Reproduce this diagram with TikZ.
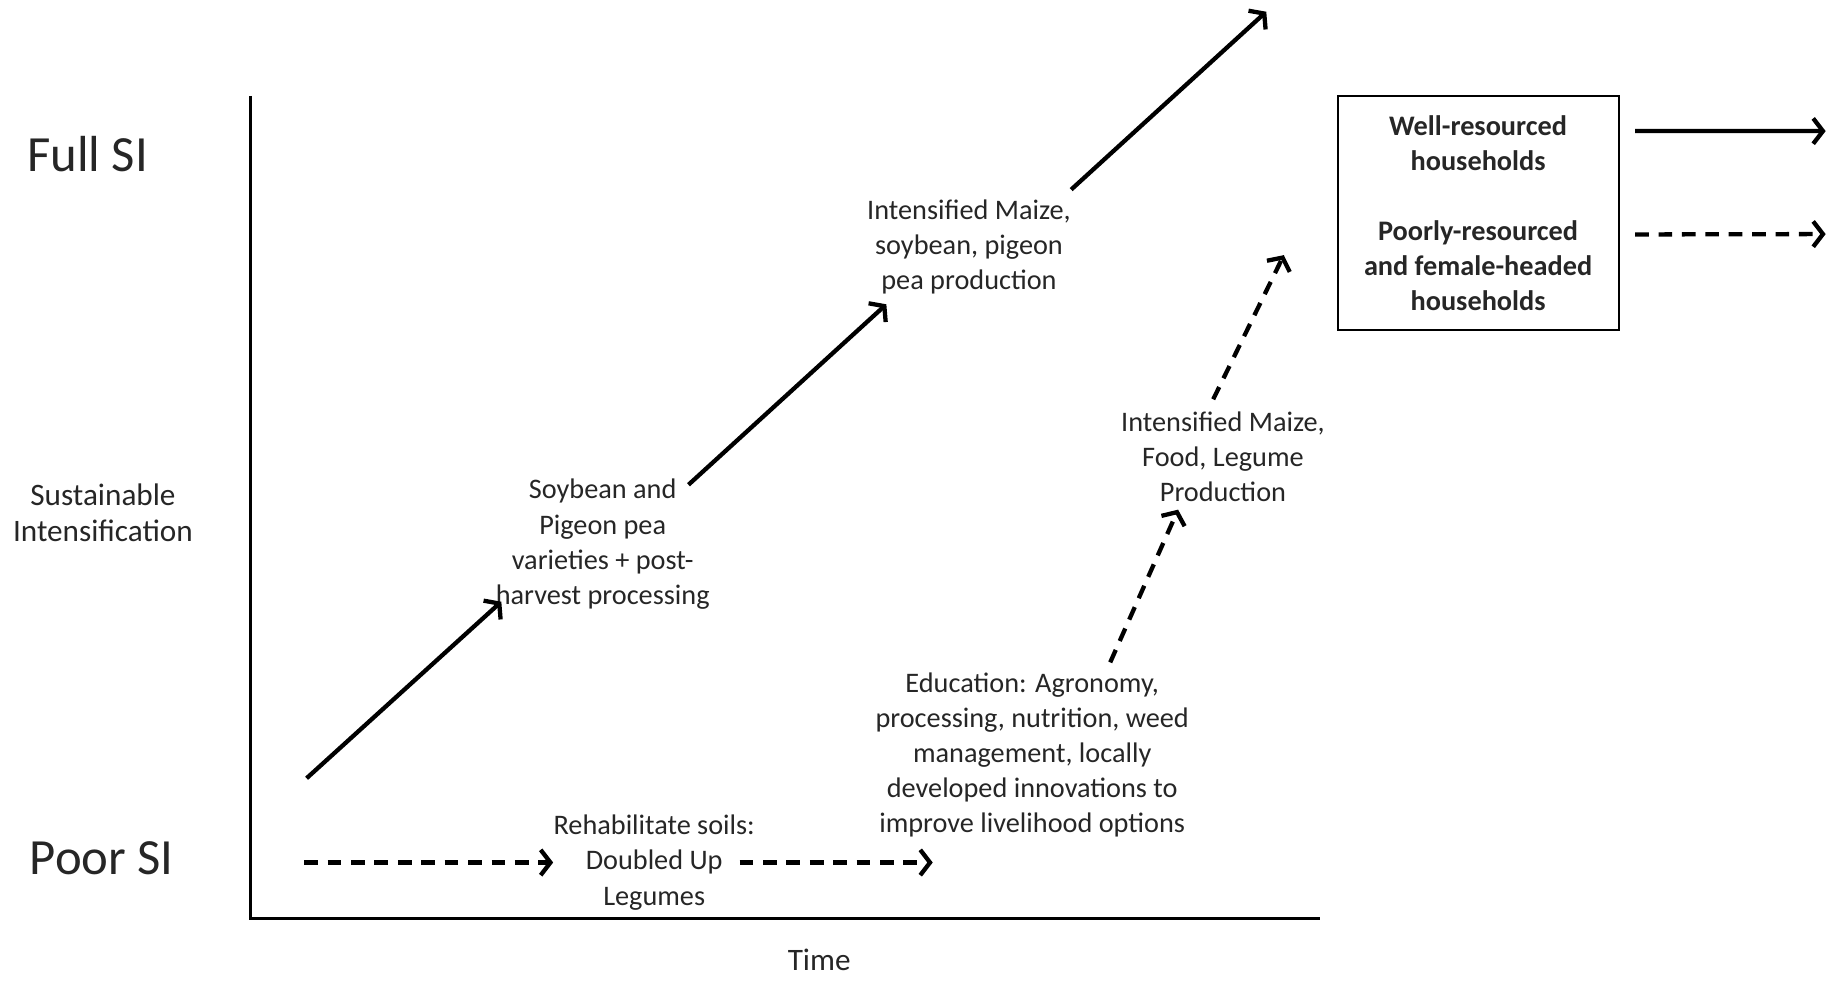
\documentclass[tikz,border=0pt]{standalone}
\usepackage{fontspec}
\setmainfont{Carlito}
\usepackage{tikz}
\usetikzlibrary{arrows.meta}
\newcommand{\lblfont}{\fontsize{14.5}{18}\selectfont}
\newcommand{\sidefont}{\fontsize{16}{18.6}\selectfont}
\newcommand{\levelfont}{\fontsize{26}{30}\selectfont}

\begin{document}
\begin{tikzpicture}[x=0.6pt,y=-0.6pt,
    txt/.style={align=center,inner sep=0pt,text=black!85,font=\lblfont},
    side/.style={align=center,inner sep=0pt,text=black!85,font=\sidefont},
    level/.style={inner sep=0pt,text=black!85,font=\levelfont},
    hbox/.style={draw,line width=1pt,align=center,text=black!85,font=\lblfont\bfseries,minimum width=144pt,minimum height=120pt},
    axis/.style={line width=1.7pt},
    arr/.style={line width=2.2pt,-{Straight Barb[length=5pt,width=13pt]}},
    darr/.style={arr,dash pattern=on 7pt off 5pt}]
      \useasboundingbox (0,0) rectangle (1568,838);

      \node[level] (full) at (75,132) {Full SI};
      \node[level] (poor) at (87,733) {Poor SI};
      \node[side] (si) at (88,438) {Sustainable\\Intensification};
      \node[side] (time) at (700,820) {Time};

      \coordinate (ytop) at (214,82);
      \coordinate (o) at (214,785);
      \coordinate (xend) at (1128,785);
      \draw[axis] (ytop) -- (o) -- (xend);

      \node[txt] (soy) at (515,465) {Soybean and\\Pigeon pea\\varieties + post-\\harvest processing};
      \node[txt] (maize) at (828,211) {Intensified Maize,\\soybean, pigeon\\pea production};
      \node[txt] (rehab) at (559,737) {Rehabilitate soils:\\Doubled Up\\Legumes};
      \node[txt] (edu) at (882,645) {Education: Agronomy,\\processing, nutrition, weed\\management, locally\\developed innovations to\\improve livelihood options};
      \node[txt] (food) at (1045,390) {Intensified Maize,\\Food, Legume\\Production};
      \node[hbox] (box) at (1263,182) {Well-resourced\\households\\[18pt]Poorly-resourced\\and female-headed\\households};

      \coordinate (s0) at (262,665);
      \coordinate (m1) at (1082,10);
      \coordinate (r0) at (260,737);
      \coordinate (r1) at (797,737);
      \coordinate (f1) at (1097,218);
      \coordinate (w1) at (1560,112);
      \coordinate (p1) at (1560,200);

      \draw[arr] (s0) -- ([xshift=3pt,yshift=4pt]soy.south west);
      \draw[arr] ([xshift=-11pt,yshift=-3pt]soy.north east) -- ([xshift=10pt,yshift=-5pt]maize.south west);
      \draw[arr] ([yshift=5pt]maize.north east) -- (m1);
      \draw[darr] (r0) -- (rehab.west);
      \draw[darr] ([xshift=-8pt]rehab.east) -- (r1);
      \draw[darr] ([xshift=40pt,yshift=5pt]edu.north) -- ([xshift=-23pt,yshift=-4pt]food.south);
      \draw[darr] ([xshift=-5pt,yshift=6pt]food.north) -- (f1);
      \draw[arr] ([xshift=8pt,yshift=42pt]box.east) -- (w1);
      \draw[darr] ([xshift=8pt,yshift=-11pt]box.east) -- (p1);
    \end{tikzpicture}
\end{document}
